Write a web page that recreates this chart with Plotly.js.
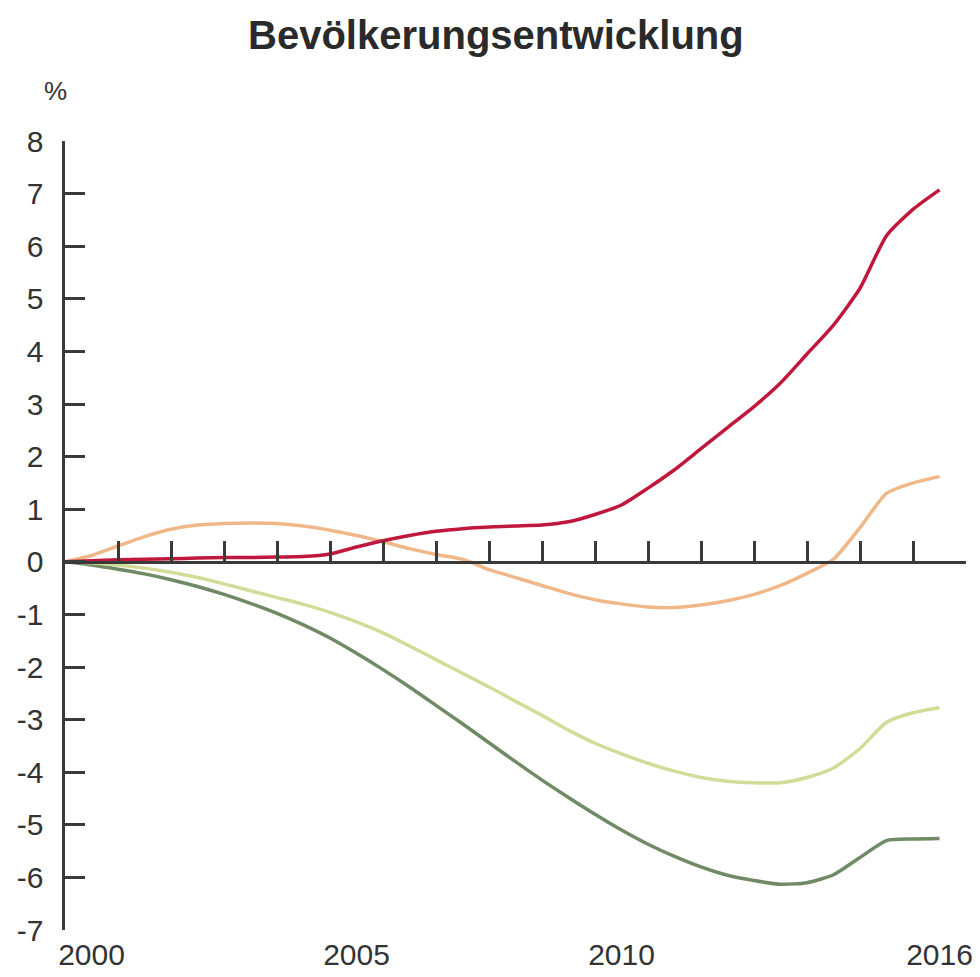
<!DOCTYPE html>
<html>
<head>
<meta charset="utf-8">
<script src="https://cdn.plot.ly/plotly-3.0.1.min.js"></script>
<style>html,body{margin:0;padding:0;background:#fff;}#chart{width:980px;height:977px;}</style>
</head>
<body>
<div id="chart"></div>
<script>
var years = [2000,2000.5,2001,2001.5,2002,2002.5,2003,2003.5,2004,2004.5,2005,2005.5,2006,2006.5,2007,2007.5,2008,2008.5,2009,2009.5,2010,2010.5,2011,2011.5,2012,2012.5,2013,2013.5,2014,2014.5,2015,2015.5,2016,2016.5];

var seriesRed = [0,0.02,0.04,0.05,0.06,0.07,0.08,0.08,0.09,0.1,0.15,0.28,0.4,0.5,0.58,0.63,0.66,0.68,0.7,0.76,0.9,1.08,1.4,1.75,2.15,2.55,2.95,3.4,3.95,4.5,5.2,6.2,6.7,7.07];
var seriesOrange = [0,0.12,0.3,0.48,0.62,0.7,0.73,0.74,0.73,0.68,0.6,0.5,0.38,0.25,0.14,0.05,-0.15,-0.3,-0.45,-0.6,-0.72,-0.8,-0.86,-0.87,-0.82,-0.74,-0.62,-0.45,-0.22,0.05,0.65,1.3,1.5,1.62];
var seriesLightGreen = [0,-0.02,-0.06,-0.12,-0.2,-0.3,-0.42,-0.55,-0.68,-0.81,-0.96,-1.14,-1.35,-1.6,-1.86,-2.12,-2.38,-2.65,-2.92,-3.2,-3.45,-3.65,-3.83,-3.98,-4.1,-4.17,-4.2,-4.2,-4.1,-3.92,-3.55,-3.05,-2.87,-2.77];
var seriesDarkGreen = [0,-0.06,-0.14,-0.23,-0.34,-0.47,-0.62,-0.79,-0.98,-1.2,-1.45,-1.74,-2.05,-2.38,-2.73,-3.08,-3.44,-3.8,-4.15,-4.48,-4.8,-5.1,-5.37,-5.6,-5.8,-5.96,-6.06,-6.13,-6.1,-5.95,-5.62,-5.3,-5.27,-5.26];

var xLabelPos = [2000.5,2005.5,2010.5,2016.5];
var xLabelText = ['2000','2005','2010','2016'];
var yearTicks = [2001,2002,2003,2004,2005,2006,2007,2008,2009,2010,2011,2012,2013,2014,2015,2016,2017];
var yTickVals = [-7,-6,-5,-4,-3,-2,-1,0,1,2,3,4,5,6,7,8];
var yTickText = ['-7','-6','-5','-4','-3','-2','-1','0','1','2','3','4','5','6','7','8'];

var titleText = 'Bevölkerungsentwicklung';
var unitText = '%';

function line(y, color) {
  return {x: years, y: y, type: 'scatter', mode: 'lines',
    line: {color: color, width: 3.5, shape: 'spline', smoothing: 0.6},
    showlegend: false, hoverinfo: 'skip'};
}

var traces = [
  {x: [2000, 2017], y: [null, null], xaxis: 'x2', yaxis: 'y', type: 'scatter', mode: 'lines', showlegend: false, hoverinfo: 'skip'},
  line(seriesDarkGreen, '#6f8a64'),
  line(seriesLightGreen, '#d2dc98'),
  line(seriesOrange, '#f0b888'),
  line(seriesRed, '#c0183c')
];

var axisColor = '#3a3a3a';
var layout = {
  width: 980, height: 977,
  margin: {l: 65, r: 14, t: 141, b: 47, pad: 0},
  paper_bgcolor: '#fff', plot_bgcolor: '#fff',
  font: {family: 'Liberation Sans, Arial, sans-serif', color: '#333'},
  title: {text: '<b>' + titleText + '</b>', x: 0.506, xanchor: 'center', y: 0.964, yanchor: 'middle',
    font: {size: 40, color: '#2a2a2a'}},
  xaxis: {range: [2000, 2017], showline: false, zeroline: false, showgrid: false,
    tickmode: 'array', tickvals: xLabelPos, ticktext: xLabelText, ticks: '',
    tickfont: {size: 30, color: '#333'}, ticklabelstandoff: 4},
  xaxis2: {range: [2000, 2017], overlaying: 'x', anchor: 'free', position: 7/15, side: 'bottom',
    showline: true, linecolor: axisColor, linewidth: 3.5, zeroline: false, showgrid: false,
    tickmode: 'array', tickvals: yearTicks, ticks: 'inside', ticklen: 20, tickwidth: 3, tickcolor: axisColor,
    showticklabels: false},
  yaxis: {range: [-7, 8], showline: true, linecolor: axisColor, linewidth: 3.5, zeroline: false, showgrid: false,
    tickmode: 'array', tickvals: yTickVals, ticktext: yTickText, ticks: 'inside', ticklen: 20, tickwidth: 3,
    tickcolor: axisColor, tickfont: {size: 30, color: '#333'}, ticklabelstandoff: 12},
  annotations: [{text: unitText, xref: 'paper', yref: 'paper', x: -0.01, y: 1.063, xanchor: 'center', yanchor: 'middle',
    showarrow: false, font: {size: 26, color: '#333'}}]
};

Plotly.newPlot('chart', traces, layout, {displayModeBar: false, staticPlot: true});
</script>
</body>
</html>
